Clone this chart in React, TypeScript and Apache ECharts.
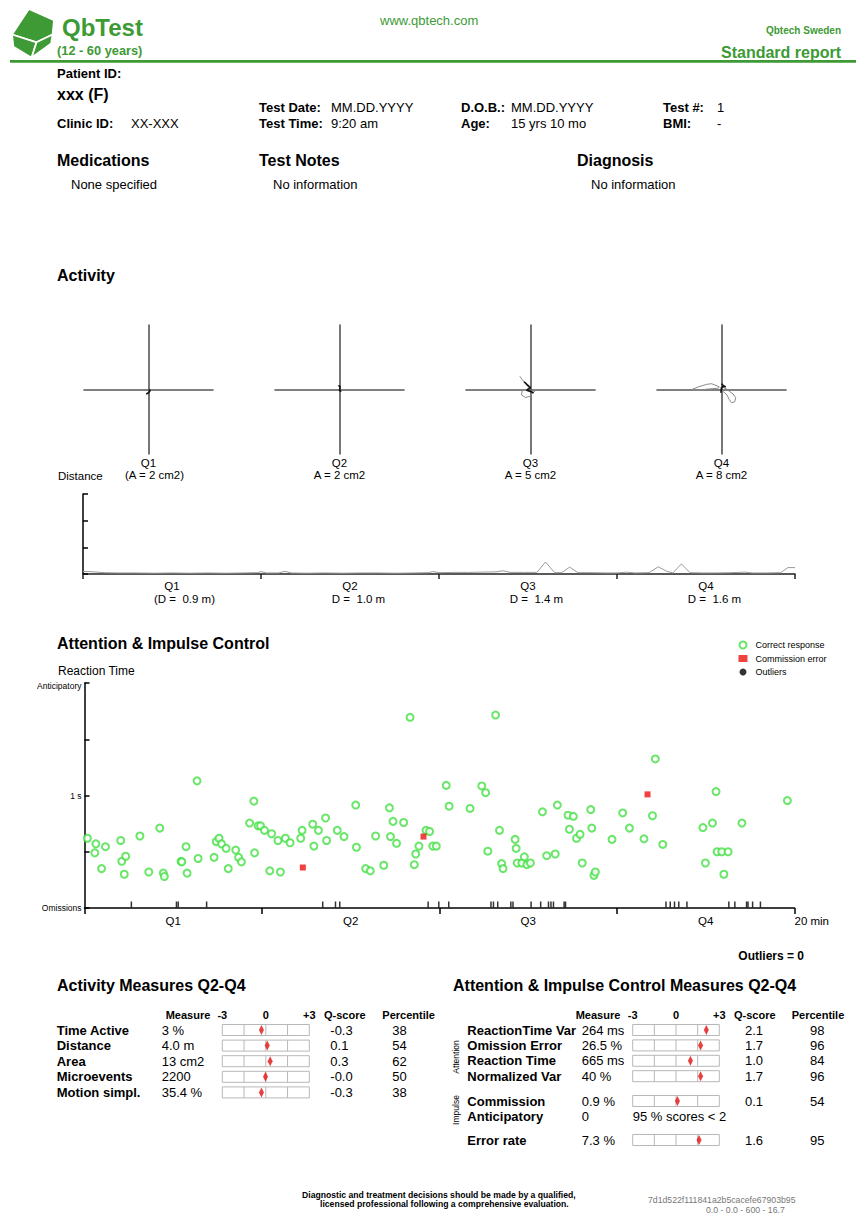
import React, { useEffect, useRef } from 'react';
import * as echarts from 'echarts';

const FONT = '"Liberation Sans", Arial, Helvetica, sans-serif';
const GREEN = '#3d9a35';

// ---------- Activity quadrants ----------
const quarterNames = ['Q1', 'Q2', 'Q3', 'Q4'];
const areaLabels = ['(A = 2 cm2)', 'A = 2 cm2', 'A = 5 cm2', 'A = 8 cm2'];
const distanceLabels = ['(D =  0.9 m)', 'D =  1.0 m', 'D =  1.4 m', 'D =  1.6 m'];

const q1Black = [[-0.35, -0.7], [0, -0.5], [0.25, -0.2], [0.1, 0]];
const q2Black = [[-0.15, 0.65], [0.1, 0.4], [0, -0.1], [0.25, -0.35]];
const q3Gray = [[-1.65, 2.05], [-1.3, 1.55], [-0.75, 0.9], [-0.25, 0.25], [-0.75, -0.1], [-1.3, -0.2], [-1.4, -0.85], [-0.75, -1.25], [-0.1, -1.05], [0.4, -0.5], [0.75, -0.2]];
const q3Black = [[-1.0, 1.2], [-0.4, 0.65], [0, 0.25], [-0.6, -0.1], [0.1, -0.35], [0.5, -0.5]];
const q4GrayLeft = [[-4.5, 0.05], [-3.6, 0.4], [-2.3, 0.8], [-1.55, 0.9], [-0.65, 0.55], [-0.35, 0.4], [-0.5, 0.2], [-2.3, 0.05], [-3.85, -0.15], [-4.5, -0.1], [-4.5, 0.05]];
const q4GrayRight = [[0.15, 0.4], [0.75, 0.1], [1.3, -0.35], [1.8, -0.7], [2.2, -1.25], [2.05, -1.9], [1.55, -2.05], [1.2, -1.55], [0.85, -0.85], [0.25, -0.3], [0, -0.1]];
const q4Black = [[0, 0.9], [0.25, 0.65], [0.65, 0.4], [0.35, 0.5], [0, 0.3], [-0.1, -0.5]];

// ---------- Distance over time (min, relative units) ----------
const distance = [
  [0, 0.1], [0.3, 0.08], [0.6, 0.05], [1, 0.04], [1.5, 0.04], [2, 0.03], [2.5, 0.04], [3, 0.03], [3.5, 0.04], [4, 0.03],
  [4.5, 0.04], [4.9, 0.05], [5.0, 0.09], [5.15, 0.04], [5.5, 0.04], [5.67, 0.1], [5.85, 0.04], [6.3, 0.03], [6.8, 0.04],
  [7.3, 0.03], [7.8, 0.04], [8.3, 0.04], [8.8, 0.03], [9.3, 0.04], [9.7, 0.05], [9.83, 0.09], [10, 0.05], [10.4, 0.06],
  [10.8, 0.06], [11.2, 0.07], [11.6, 0.08], [11.8, 0.12], [12, 0.06], [12.4, 0.06], [12.75, 0.06], [12.99, 0.45],
  [13.25, 0.05], [13.45, 0.05], [13.67, 0.26], [13.9, 0.05], [14.3, 0.05], [14.7, 0.04], [15.0, 0.04], [15.27, 0.07],
  [15.5, 0.04], [15.9, 0.05], [16.16, 0.27], [16.4, 0.1], [16.57, 0.04], [16.81, 0.38], [17.05, 0.05], [17.4, 0.04],
  [17.8, 0.04], [18.2, 0.05], [18.6, 0.07], [18.8, 0.04], [19.2, 0.04], [19.6, 0.05], [19.8, 0.24], [20, 0.24],
];

// ---------- Reaction time (min, seconds) ----------
const correctResponses = [
  [0.08, 0.62], [0.29, 0.49], [0.32, 0.57], [0.48, 0.35], [0.59, 0.545], [1.02, 0.6], [1.05, 0.415], [1.12, 0.3], [1.16, 0.46],
  [1.56, 0.64], [1.81, 0.32], [2.12, 0.71], [2.22, 0.31], [2.25, 0.28], [2.72, 0.415], [2.74, 0.41], [2.86, 0.545], [2.89, 0.31],
  [3.17, 1.13], [3.2, 0.44], [3.65, 0.45], [3.71, 0.59], [3.79, 0.62], [3.86, 0.57], [3.99, 0.53], [4.05, 0.35], [4.26, 0.515],
  [4.34, 0.45], [4.42, 0.41], [4.65, 0.755], [4.77, 0.95], [4.79, 0.49], [4.89, 0.73], [4.96, 0.73],
  [5.07, 0.69], [5.22, 0.33], [5.27, 0.66], [5.45, 0.6], [5.52, 0.32], [5.66, 0.62], [5.79, 0.58], [6.09, 0.62], [6.13, 0.69],
  [6.43, 0.745], [6.46, 0.55], [6.59, 0.69], [6.79, 0.8], [6.82, 0.6], [7.12, 0.69], [7.31, 0.635], [7.64, 0.915], [7.66, 0.54],
  [7.92, 0.35], [8.05, 0.33], [8.2, 0.64], [8.43, 0.38], [8.59, 0.89], [8.62, 0.635], [8.69, 0.77], [8.79, 0.575], [8.99, 0.76],
  [9.17, 1.695], [9.29, 0.385], [9.33, 0.48], [9.42, 0.55], [9.62, 0.69], [9.72, 0.68], [9.81, 0.55], [9.91, 0.55],
  [10.19, 1.09], [10.27, 0.905], [10.86, 0.885], [11.19, 1.085], [11.3, 1.025], [11.36, 0.505], [11.58, 1.715], [11.69, 0.69],
  [11.75, 0.395], [11.79, 0.35], [12.13, 0.61], [12.16, 0.53], [12.19, 0.4], [12.32, 0.4], [12.39, 0.455], [12.46, 0.385],
  [12.56, 0.4], [12.9, 0.855], [13.02, 0.465], [13.26, 0.48], [13.32, 0.915], [13.62, 0.825], [13.66, 0.7], [13.77, 0.815],
  [13.86, 0.62], [13.96, 0.655], [14.02, 0.4], [14.26, 0.875], [14.29, 0.71], [14.35, 0.29], [14.39, 0.32], [14.86, 0.61],
  [15.16, 0.845], [15.35, 0.71], [15.76, 0.615], [16.0, 0.82], [16.08, 1.325], [16.29, 0.565], [17.42, 0.715], [17.49, 0.4],
  [17.69, 0.755], [17.79, 1.035], [17.82, 0.5], [17.95, 0.5], [18.01, 0.3], [18.13, 0.5], [18.52, 0.755], [19.8, 0.955],
];
const commissionErrors = [[6.15, 0.36], [9.55, 0.635], [15.86, 1.01]];
const outliers: number[][] = [];
const omissionTimes = [
  1.32, 2.59, 2.64, 3.44, 6.71, 7.07, 7.19, 9.68, 9.98, 10.26, 11.45, 11.52, 11.64, 12.01, 12.07, 12.58, 12.85,
  13.07, 13.14, 13.21, 13.51, 13.55, 16.38, 16.5, 16.62, 16.74, 16.97, 18.15, 18.32, 18.65, 18.69, 18.82, 19.04,
];
const rtTickLabels: Record<string, string> = { '0': 'Omissions', '1': '1 s', '2': 'Anticipatory' };

// ---------- Measure tables ----------
const activityRows = ['Time Active', 'Distance', 'Area', 'Microevents', 'Motion simpl.'];
const activityMeasures = ['3 %', '4.0 m', '13 cm2', '2200', '35.4 %'];
const activityQ = [-0.3, 0.1, 0.3, -0.02, -0.3];
const activityPct = [38, 54, 62, 50, 38];

const attentionRows = ['ReactionTime Var', 'Omission Error', 'Reaction Time', 'Normalized Var'];
const attentionMeasures = ['264 ms', '26.5 %', '665 ms', '40 %'];
const attentionQ = [2.1, 1.7, 1.0, 1.7];
const attentionPct = [98, 96, 84, 96];

const impulseRows = ['Commission', 'Anticipatory'];
const impulseMeasures = ['0.9 %', '0'];
const impulseQ: (number | null)[] = [0.1, null];
const impulsePct: (number | null)[] = [54, null];

const errorRows = ['Error rate'];
const errorMeasures = ['7.3 %'];
const errorQ = [1.6];
const errorPct = [95];

// ---------- helpers ----------
const txt = (text: string, x: number, y: number, size: number, weight = 'normal', align = 'left', color = '#000', extra: any = {}) => ({
  type: 'text', x, y, silent: true, ...extra,
  style: {
    text, fill: color, fontSize: size, fontWeight: weight, fontFamily: FONT,
    textAlign: align, textVerticalAlign: 'middle', align, verticalAlign: 'middle',
  },
});

function tableYAxes(gridIndex: number, rows: string[], measures: string[], qs: (number | null)[], pcts: (number | null)[], m: { label: number; measure: number; q: number; p: number }) {
  const base: any = { type: 'category', gridIndex, data: rows, inverse: true, axisLine: { show: false }, axisTick: { show: false }, splitLine: { show: false } };
  const lab = (o: any) => ({ interval: 0, color: '#000', fontFamily: FONT, fontSize: 13, ...o });
  return [
    { ...base, position: 'left', axisLabel: lab({ align: 'left', margin: m.label, fontWeight: 'bold' }) },
    { ...base, position: 'left', axisLabel: lab({ align: 'left', margin: m.measure, formatter: (_v: any, i: number) => measures[i] }) },
    { ...base, position: 'right', axisLabel: lab({ align: 'left', margin: m.q, formatter: (_v: any, i: number) => (qs[i] == null ? '' : (qs[i] as number).toFixed(1)) }) },
    { ...base, position: 'right', axisLabel: lab({ align: 'left', margin: m.p, formatter: (_v: any, i: number) => (pcts[i] == null ? '' : String(pcts[i])) }) },
  ];
}

function tableXAxis(gridIndex: number, showHeader: boolean) {
  return {
    type: 'value', gridIndex, min: -3, max: 3, interval: 3, position: 'top',
    axisLine: { show: false }, axisTick: { show: false }, splitLine: { show: false },
    axisLabel: {
      show: showHeader, margin: 1.5, color: '#000', fontFamily: FONT, fontSize: 11, fontWeight: 'bold',
      formatter: (v: number) => (v > 0 ? '+' + v : String(v)),
    },
  };
}

function boxSeries(xAxisIndex: number, yAxisIndex: number, qs: (number | null)[]) {
  return {
    type: 'custom', xAxisIndex, yAxisIndex, silent: true, z: 2,
    data: qs.map((q, i) => (q == null ? null : [0, i])).filter((d) => d != null),
    renderItem: (_p: any, api: any) => {
      const row = api.value(1);
      const a = api.coord([-3, row]);
      const b = api.coord([3, row]);
      const h = 11;
      const children: any[] = [
        { type: 'rect', shape: { x: a[0], y: a[1] - h / 2, width: b[0] - a[0], height: h }, style: { fill: '#fff', stroke: '#b8b8b8', lineWidth: 1 } },
      ];
      [-1.5, 0, 1.5].forEach((d) => {
        const c = api.coord([d, row]);
        children.push({ type: 'line', shape: { x1: c[0], y1: c[1] - h / 2, x2: c[0], y2: c[1] + h / 2 }, style: { stroke: '#b8b8b8', lineWidth: 1 } });
      });
      return { type: 'group', children };
    },
  };
}

function diamondSeries(xAxisIndex: number, yAxisIndex: number, qs: (number | null)[]) {
  return {
    type: 'scatter', xAxisIndex, yAxisIndex, z: 5, silent: true,
    symbol: 'diamond', symbolSize: [5, 10], itemStyle: { color: '#e01010' },
    data: qs.map((q, i) => (q == null ? null : [q, i])).filter((d) => d != null),
  };
}

function buildOption(): any {
  const quadLefts = [84, 275, 466, 657];
  const gridBase = { outerBoundsMode: 'none', containLabel: false };
  const grid = [
    ...quadLefts.map((l) => ({ ...gridBase, left: l, top: 325, width: 129, height: 129 })),
    { ...gridBase, left: 83, top: 494, width: 712, height: 80 },
    { ...gridBase, left: 84.5, top: 683, width: 710, height: 225 },
    { ...gridBase, left: 222.3, top: 1022.2, width: 87, height: 78 },
    { ...gridBase, left: 632.7, top: 1022.3, width: 86.6, height: 61.6 },
    { ...gridBase, left: 632.7, top: 1093.3, width: 86.6, height: 30.8 },
    { ...gridBase, left: 632.7, top: 1132.3, width: 86.6, height: 15.4 },
  ];

  const quadAxis = (i: number) => ({
    type: 'value', gridIndex: i, min: -10, max: 10,
    axisLine: { show: true, onZero: true, lineStyle: { color: '#555', width: 1.6 } },
    axisTick: { show: false }, axisLabel: { show: false }, splitLine: { show: false },
  });

  const dRich = { fontSize: 11.5, lineHeight: 13, color: '#000', fontFamily: FONT };

  const xAxis: any[] = [
    ...[0, 1, 2, 3].map(quadAxis),
    { type: 'value', gridIndex: 4, min: 0, max: 20, show: false },
    {
      type: 'category', gridIndex: 4, data: quarterNames, position: 'bottom', boundaryGap: true,
      axisLine: { show: true, onZero: false, lineStyle: { color: '#222', width: 1.5 } },
      axisTick: { show: true, length: 5, lineStyle: { color: '#222', width: 1.5 } },
      splitLine: { show: false },
      axisLabel: {
        interval: 0, margin: 5, color: '#000', fontFamily: FONT, fontSize: 11.5, lineHeight: 13,
        formatter: (v: string, i: number) => '{q|' + v + '}\n' + (i === 0 ? '{p|' : '{d|') + distanceLabels[i] + '}',
        rich: {
          q: { ...dRich, padding: [0, 0, 0, 0] },
          p: { ...dRich, padding: [0, 0, 0, 25] },
          d: { ...dRich, padding: [0, 0, 0, 17] },
        },
      },
    },
    {
      type: 'value', gridIndex: 5, min: 0, max: 20, interval: 5, position: 'bottom',
      axisLine: { show: true, onZero: false, lineStyle: { color: '#000', width: 1.5 } },
      axisTick: { show: true, length: 6, lineStyle: { color: '#000', width: 1.5 } },
      splitLine: { show: false },
      axisLabel: {
        margin: 7, color: '#000', fontFamily: FONT, fontSize: 11.5, align: 'left', showMaxLabel: true, showMinLabel: true,
        formatter: (v: number) => (v === 20 ? '20 min' : ''),
      },
    },
    {
      type: 'category', gridIndex: 5, data: quarterNames, position: 'bottom',
      axisLine: { show: false, onZero: false }, axisTick: { show: false }, splitLine: { show: false },
      axisLabel: { interval: 0, margin: 7, color: '#000', fontFamily: FONT, fontSize: 11.5 },
    },
    tableXAxis(6, true),
    tableXAxis(7, true),
    tableXAxis(8, false),
    tableXAxis(9, false),
  ];

  const yAxis: any[] = [
    ...[0, 1, 2, 3].map(quadAxis),
    {
      type: 'value', gridIndex: 4, min: 0, max: 3, interval: 1,
      axisLine: { show: true, onZero: false, lineStyle: { color: '#000', width: 1.5 } },
      axisTick: { show: true, inside: true, length: 5, lineStyle: { color: '#000', width: 1.5 } },
      axisLabel: { show: false }, splitLine: { show: false },
    },
    {
      type: 'value', gridIndex: 5, min: 0, max: 2, interval: 0.5,
      axisLine: { show: true, onZero: false, lineStyle: { color: '#000', width: 1.5 } },
      axisTick: { show: true, inside: true, length: 5, lineStyle: { color: '#000', width: 1.5 } },
      splitLine: { show: false },
      axisLabel: {
        margin: 3, color: '#000', fontFamily: FONT, fontSize: 8.5, showMaxLabel: true, showMinLabel: true,
        formatter: (v: number) => (v === 2 ? '{t|' + rtTickLabels['2'] + '}' : rtTickLabels[String(v)] || ''),
        rich: { t: { padding: [6, 0, 0, 0], fontSize: 8.5, color: '#000', fontFamily: FONT } },
      },
    },
    ...tableYAxes(6, activityRows, activityMeasures, activityQ, activityPct, { label: 165.6, measure: 60.6, q: 21, p: 83 }),
    ...tableYAxes(7, attentionRows, attentionMeasures, attentionQ, attentionPct, { label: 165.4, measure: 51, q: 25.7, p: 90.7 }),
    ...tableYAxes(8, impulseRows, impulseMeasures, impulseQ, impulsePct, { label: 165.4, measure: 51, q: 25.7, p: 90.7 }),
    ...tableYAxes(9, errorRows, errorMeasures, errorQ, errorPct, { label: 165.4, measure: 51, q: 25.7, p: 90.7 }),
  ];

  const pathLine = (i: number, data: number[][], color: string, width: number) => ({
    type: 'line', xAxisIndex: i, yAxisIndex: i, data, showSymbol: false, silent: true, z: 3,
    lineStyle: { color, width }, smooth: false,
  });

  const series: any[] = [
    pathLine(0, q1Black, '#111', 1.6),
    pathLine(1, q2Black, '#111', 1.6),
    pathLine(2, q3Gray, '#8a8a8a', 1),
    pathLine(2, q3Black, '#111', 1.6),
    pathLine(3, q4GrayLeft, '#8a8a8a', 1),
    pathLine(3, q4GrayRight, '#8a8a8a', 1),
    pathLine(3, q4Black, '#111', 1.6),
    {
      type: 'line', xAxisIndex: 4, yAxisIndex: 4, data: distance, showSymbol: false, silent: true,
      lineStyle: { color: '#9a9a9a', width: 1 },
    },
    {
      name: 'Correct response', type: 'scatter', xAxisIndex: 6, yAxisIndex: 5, data: correctResponses,
      symbol: 'emptyCircle', symbolSize: 7, itemStyle: { color: '#45e045', borderWidth: 0.9 }, silent: true,
    },
    {
      name: 'Commission error', type: 'scatter', xAxisIndex: 6, yAxisIndex: 5, data: commissionErrors,
      symbol: 'rect', symbolSize: 6, itemStyle: { color: '#ee1111' }, silent: true, z: 4,
    },
    {
      name: 'Outliers', type: 'scatter', xAxisIndex: 6, yAxisIndex: 5, data: outliers,
      symbol: 'circle', symbolSize: 6, itemStyle: { color: '#000' }, silent: true,
    },
    {
      name: 'Omissions', type: 'scatter', xAxisIndex: 6, yAxisIndex: 5, data: omissionTimes.map((t) => [t, 0]),
      symbol: 'rect', symbolSize: [1.5, 6], symbolOffset: [0, -3.5], itemStyle: { color: '#000' }, silent: true,
    },
    boxSeries(8, 6, activityQ), diamondSeries(8, 6, activityQ),
    boxSeries(9, 10, attentionQ), diamondSeries(9, 10, attentionQ),
    boxSeries(10, 14, impulseQ), diamondSeries(10, 14, impulseQ),
    boxSeries(11, 18, errorQ), diamondSeries(11, 18, errorQ),
  ];

  const quadCenters = quadLefts.map((l) => l + 64.5);
  const areaShift = [6, 0, 0, 0];
  const cubeStyle = { fill: GREEN, stroke: '#fff', lineWidth: 1.8 };

  const graphic: any[] = [
    // logo cube
    { type: 'polygon', shape: { points: [[12, 34.5], [28.8, 9], [54, 20.1], [52.6, 34.5], [36.5, 42.3]] }, style: cubeStyle },
    { type: 'polygon', shape: { points: [[12, 34.5], [36.5, 42.3], [31.6, 57.8], [13.4, 46.7]] }, style: cubeStyle },
    { type: 'polygon', shape: { points: [[36.5, 42.3], [52.6, 34.5], [51.2, 43.4], [31.6, 57.8]] }, style: cubeStyle },
    txt('QbTest', 62, 27, 24, 'bold', 'left', GREEN),
    txt('(12 - 60 years)', 57, 50, 12.8, 'bold', 'left', GREEN),
    txt('www.qbtech.com', 380, 20, 13, 'normal', 'left', GREEN),
    txt('Qbtech Sweden', 841, 30, 10, 'bold', 'right', GREEN),
    txt('Standard report', 841, 52, 16, 'bold', 'right', GREEN),
    { type: 'rect', shape: { x: 10, y: 60, width: 846, height: 2.7 }, style: { fill: GREEN } },

    txt('Patient ID:', 57, 73, 13, 'bold'),
    txt('xxx (F)', 57, 94, 16, 'bold'),
    txt('Clinic ID:', 57, 123, 13, 'bold'),
    txt('XX-XXX', 131, 123, 13),
    txt('Test Date:', 259, 107, 13, 'bold'),
    txt('MM.DD.YYYY', 331, 107, 13),
    txt('Test Time:', 259, 123, 13, 'bold'),
    txt('9:20 am', 331, 123, 13),
    txt('D.O.B.:', 461, 107, 13, 'bold'),
    txt('MM.DD.YYYY', 511, 107, 13),
    txt('Age:', 461, 123, 13, 'bold'),
    txt('15 yrs 10 mo', 511, 123, 13),
    txt('Test #:', 663, 107, 13, 'bold'),
    txt('1', 717, 107, 13),
    txt('BMI:', 663, 123, 13, 'bold'),
    txt('-', 717, 123, 13),

    txt('Medications', 57, 160, 16, 'bold'),
    txt('None specified', 71, 184, 13),
    txt('Test Notes', 259, 160, 16, 'bold'),
    txt('No information', 273, 184, 13),
    txt('Diagnosis', 577, 160, 16, 'bold'),
    txt('No information', 591, 184, 13),

    txt('Activity', 57, 275, 16, 'bold'),
    ...quarterNames.map((q, i) => txt(q, quadCenters[i], 463, 11.5, 'normal', 'center')),
    ...areaLabels.map((a, i) => txt(a, quadCenters[i] + areaShift[i], 475, 11.5, 'normal', 'center')),
    txt('Distance', 58, 476, 11.5),

    txt('Attention & Impulse Control', 57, 643, 16, 'bold'),
    txt('Reaction Time', 58, 671, 12),
    txt('Outliers = 0', 804, 956, 12, 'bold', 'right'),

    txt('Activity Measures Q2-Q4', 57, 985, 16, 'bold'),
    txt('Measure', 165.7, 1015, 11, 'bold'),
    txt('Q-score', 324, 1015, 11, 'bold'),
    txt('Percentile', 382.3, 1015, 11, 'bold'),

    txt('Attention & Impulse Control Measures Q2-Q4', 453, 985, 16, 'bold'),
    txt('Measure', 575.7, 1015, 11, 'bold'),
    txt('Q-score', 734, 1015, 11, 'bold'),
    txt('Percentile', 791.7, 1015, 11, 'bold'),
    txt('Attention', 456, 1057, 8.5, 'normal', 'center', '#000', { rotation: Math.PI / 2 }),
    txt('Impulse', 456, 1110, 8.5, 'normal', 'center', '#000', { rotation: Math.PI / 2 }),
    txt('95 % scores < 2', 632.7, 1116, 13),

    txt('Diagnostic and treatment decisions should be made by a qualified,', 302, 1194.5, 8.65, 'bold'),
    txt('licensed professional following a comprehensive evaluation.', 320, 1204, 8.65, 'bold'),
    txt('7d1d522f111841a2b5cacefe67903b95', 648, 1200, 8.7, 'normal', 'left', '#777'),
    txt('0.0 - 0.0 - 600 - 16.7', 706, 1210, 8.7, 'normal', 'left', '#777'),
  ];

  return {
    animation: false,
    backgroundColor: '#fff',
    textStyle: { fontFamily: FONT },
    grid, xAxis, yAxis, series, graphic,
    legend: {
      orient: 'vertical', left: 738.5, top: 640.5, itemWidth: 9, itemHeight: 7, itemGap: 4.5, padding: 0,
      data: ['Correct response', 'Commission error', 'Outliers'],
      textStyle: { fontSize: 9, color: '#000', fontFamily: FONT, padding: [0, 0, 0, 3] },
      selectedMode: false,
    },
  };
}

export default function App() {
  const ref = useRef<HTMLDivElement>(null);
  useEffect(() => {
    const chart = echarts.init(ref.current as HTMLDivElement, null, { renderer: 'svg' });
    chart.setOption(buildOption());
    return () => chart.dispose();
  }, []);
  return (
    <div
      ref={ref}
      style={{ position: 'absolute', left: 0, top: 0, width: 860, height: 1216, background: '#fff' }}
    />
  );
}
